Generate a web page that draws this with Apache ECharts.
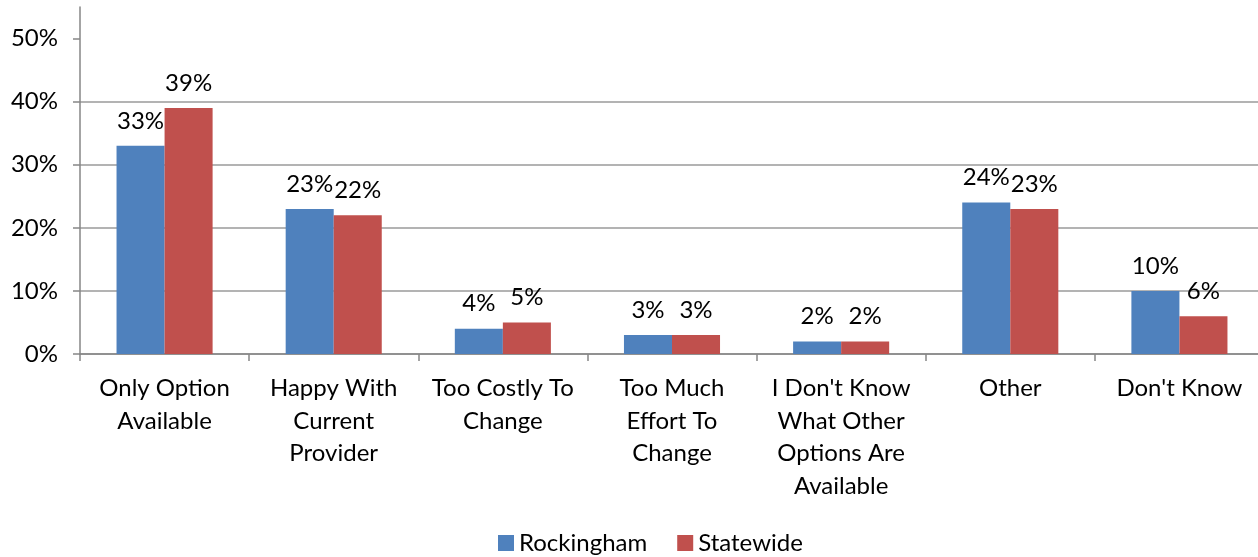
<!DOCTYPE html>
<html><head><meta charset="utf-8">
<script src="https://cdn.jsdelivr.net/npm/echarts@6/dist/echarts.min.js"></script>
<style>html,body{margin:0;padding:0;background:#fff}#c{width:1258px;height:557px}</style>
</head><body><div id="c"></div>
<script>
const categories = ["Only Option\nAvailable", "Happy With\nCurrent\nProvider", "Too Costly To\nChange", "Too Much\nEffort To\nChange", "I Don't Know\nWhat Other\nOptions Are\nAvailable", "Other", "Don't Know"];
const rockingham = [33, 23, 4, 3, 2, 24, 10];
const statewide = [39, 22, 5, 3, 2, 23, 6];
const yTicks = [0, 10, 20, 30, 40, 50];
const FONT = "Lato, sans-serif";
const FS = 24;
const chart = echarts.init(document.getElementById('c'));
const lbl = {show: true, position: 'top', distance: 13, formatter: p => p.value + '%', color: '#000', fontSize: FS, fontFamily: FONT};
chart.setOption({
  animation: false,
  grid: {left: 80, width: 1184, top: 7, height: 347, containLabel: false, outerBoundsMode: 'none'},
  legend: {bottom: -3, left: 493, itemWidth: 16, itemHeight: 16, itemGap: 30, icon: 'rect',
    textStyle: {fontSize: FS, fontFamily: FONT, color: '#000'}, data: ['Rockingham', 'Statewide']},
  xAxis: {type: 'category', data: categories,
    axisLine: {lineStyle: {color: '#868686', width: 1.5}},
    axisTick: {show: true, length: 7, lineStyle: {color: '#868686', width: 1.5}},
    axisLabel: {interval: 0, color: '#000', fontSize: FS, fontFamily: FONT, lineHeight: 32.7, margin: 18}},
  yAxis: {type: 'value', min: 0, max: 55, interval: 10,
    axisLine: {show: true, lineStyle: {color: '#868686', width: 1.5}},
    axisTick: {show: true, length: 7, customValues: yTicks, lineStyle: {color: '#868686', width: 1.5}},
    axisLabel: {customValues: yTicks, formatter: v => v + '%', color: '#000', fontSize: FS, fontFamily: FONT, margin: 22},
    splitLine: {show: true, showMaxLine: false, lineStyle: {color: '#9a9a9a', width: 1.5}}},
  series: [
    {name: 'Rockingham', type: 'bar', data: rockingham, barWidth: '28.4%', barGap: '0%', itemStyle: {color: '#4F81BD'}, label: lbl},
    {name: 'Statewide', type: 'bar', data: statewide, barWidth: '28.4%', barGap: '0%', itemStyle: {color: '#C0504D'}, label: lbl}
  ]
});
</script></body></html>
